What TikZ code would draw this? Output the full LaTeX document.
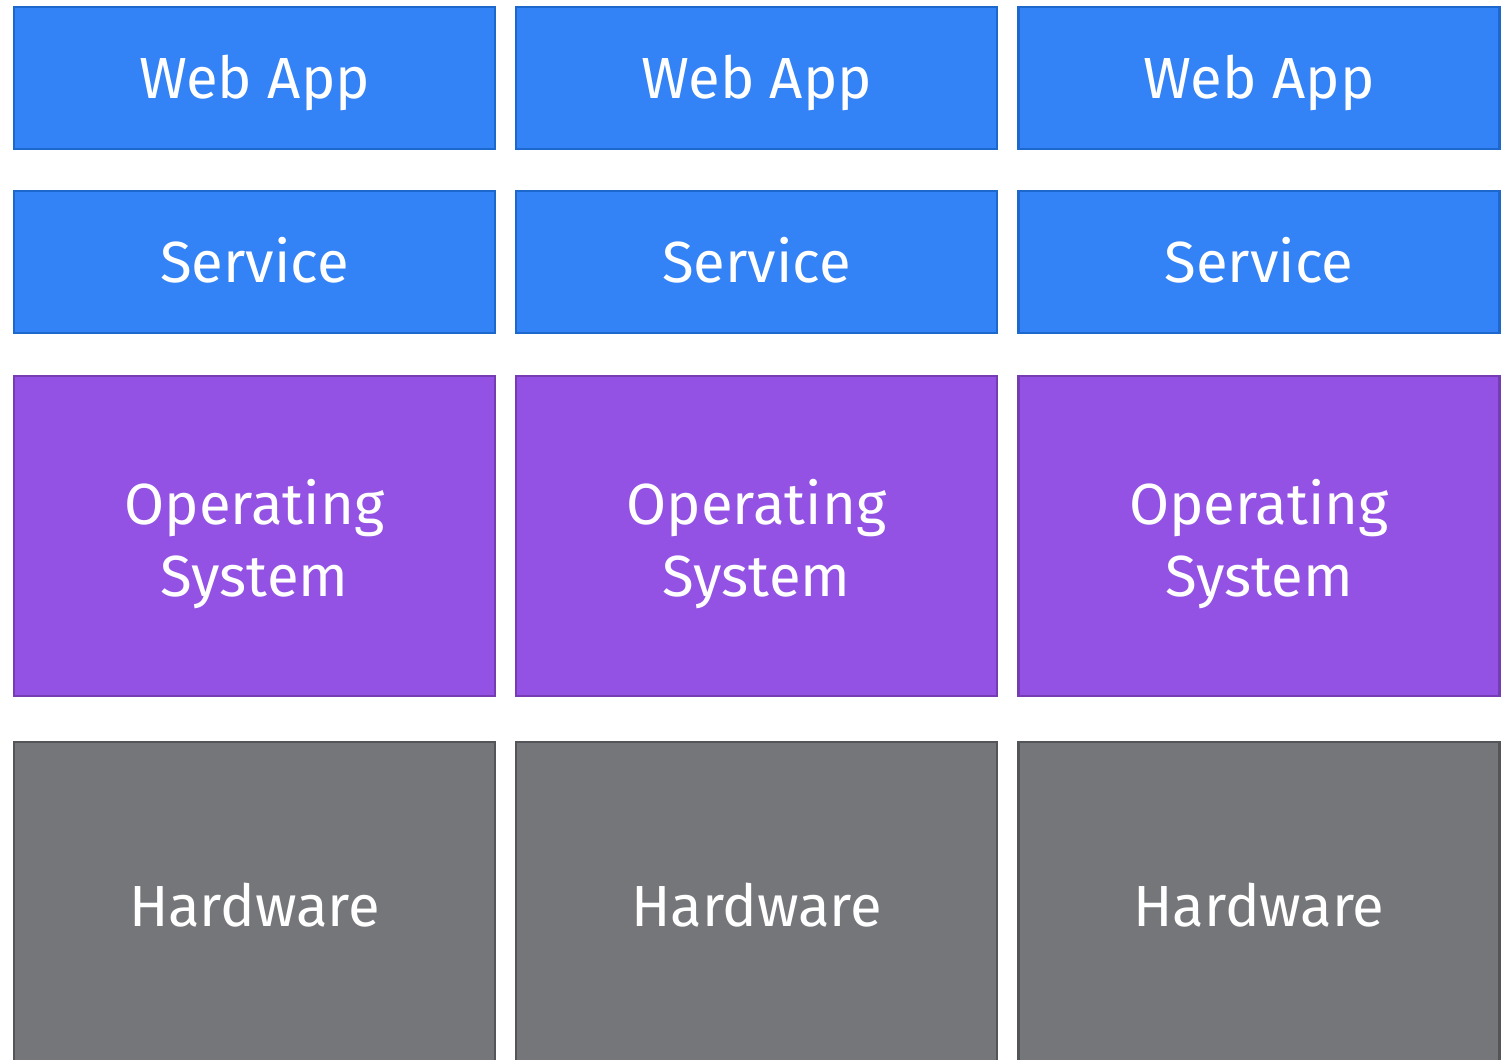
\documentclass[tikz,border=0pt]{standalone}
\usepackage{fontspec}
\setmainfont{Fira Sans}
\definecolor{appblue}{RGB}{51,130,246}
\definecolor{appblueline}{RGB}{28,104,204}
\definecolor{ospurple}{RGB}{147,82,228}
\definecolor{ospurpleline}{RGB}{118,60,180}
\definecolor{hwgray}{RGB}{117,118,121}
\definecolor{hwgrayline}{RGB}{84,85,88}
\newcommand{\osstrut}{\rule{0pt}{35pt}}
\tikzset{
    layer/.style={draw, line width=0.05cm, minimum width=9.62cm, text=white,
        align=center, font=\fontsize{33}{41}\selectfont, inner sep=0pt,
        text height=22.8pt, text depth=0pt},
    app/.style={layer, fill=appblue, draw=appblueline, minimum height=2.84cm},
    svc/.style={layer, fill=appblue, draw=appblueline, minimum height=2.84cm},
    os/.style={layer, fill=ospurple, draw=ospurpleline, minimum height=6.4cm,
        text height=, text depth=},
    hw/.style={layer, fill=hwgray, draw=hwgrayline, minimum height=6.56cm},
}
\begin{document}
\begin{tikzpicture}
    \useasboundingbox (0,0) rectangle (30.12,-21.18);
    \clip (0,0) rectangle (30.12,-21.18);
    % the web apps
    \node[app] (app1) at (5.09,-1.56) {Web App};
    \node[app] (app2) at (15.13,-1.56) {Web App};
    \node[app] (app3) at (25.18,-1.56) {Web App};
    % the services
    \node[svc] (svc1) at (5.09,-5.24) {Service};
    \node[svc] (svc2) at (15.13,-5.24) {Service};
    \node[svc] (svc3) at (25.18,-5.24) {Service};
    % the operating systems (strut pushes the two lines down a bit)
    \node[os] (os1) at (5.09,-10.72) {\osstrut Operating\\System};
    \node[os] (os2) at (15.13,-10.72) {\osstrut Operating\\System};
    \node[os] (os3) at (25.18,-10.72) {\osstrut Operating\\System};
    % the hardware (runs off the bottom edge)
    \node[hw] (hw1) at (5.09,-18.12) {Hardware};
    \node[hw] (hw2) at (15.13,-18.12) {Hardware};
    \node[hw] (hw3) at (25.18,-18.12) {Hardware};
\end{tikzpicture}
\end{document}
